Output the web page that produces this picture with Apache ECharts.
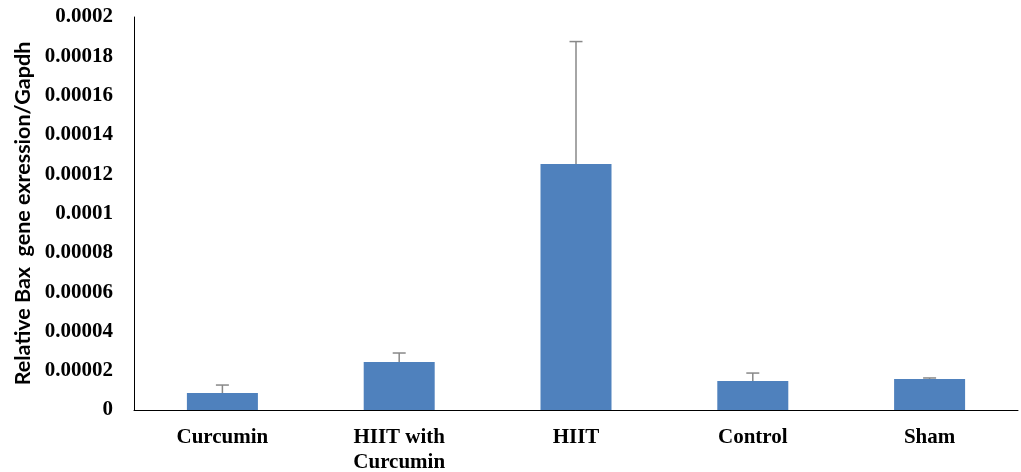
<!DOCTYPE html>
<html><head><meta charset="utf-8">
<script src="https://cdn.jsdelivr.net/npm/echarts@6/dist/echarts.min.js"></script>
<style>html,body{margin:0;padding:0;background:#fff}#c{width:1021px;height:472px}</style>
</head><body><div id="c"></div>
<script>
const categories = ['Curcumin', 'HIIT with\nCurcumin', 'HIIT', 'Control', 'Sham'];
const means = [0.0000086, 0.0000244, 0.0001252, 0.0000148, 0.0000158];
const errTops = [0.0000127, 0.000029, 0.0001875, 0.0000188, 0.0000163];
const yTickLabels = ['0', '0.00002', '0.00004', '0.00006', '0.00008', '0.0001', '0.00012', '0.00014', '0.00016', '0.00018', '0.0002'];
const yTitle = 'Relative Bax  gene exression/Gapdh';

const chart = echarts.init(document.getElementById('c'));
chart.setOption({
  animation: false,
  grid: {left: 134, right: 3, top: 17, bottom: 62, outerBoundsMode: 'none', containLabel: false},
  xAxis: {
    type: 'category', data: categories,
    axisLine: {lineStyle: {color: '#000', width: 1}},
    axisTick: {show: false},
    axisLabel: {fontFamily: 'Liberation Serif', fontWeight: 'bold', fontSize: 21, color: '#000', margin: 15, lineHeight: 25, verticalAlign: 'top'}
  },
  yAxis: {
    type: 'value', min: 0, max: 0.0002, interval: 0.00002,
    name: yTitle, nameLocation: 'middle', nameGap: 97,
    nameTextStyle: {fontFamily: 'Lato', fontWeight: 'bold', fontSize: 21.5, color: '#000'},
    axisLine: {show: true, lineStyle: {color: '#000', width: 1}},
    axisTick: {show: false},
    splitLine: {show: false},
    axisLabel: {
      fontFamily: 'Liberation Serif', fontWeight: 'bold', fontSize: 21, color: '#000', margin: 21,
      formatter: (v, i) => yTickLabels[Math.round(v / 0.00002)]
    }
  },
  series: [
    {type: 'bar', data: means, barWidth: 71, itemStyle: {color: '#4F81BD'}, z: 2},
    {
      type: 'custom', z: 1,
      data: categories.map((c, i) => [i, means[i], errTops[i]]),
      renderItem: (params, api) => {
        const b = api.coord([api.value(0), api.value(1)]);
        const t = api.coord([api.value(0), api.value(2)]);
        const w = 6.5;
        const st = {stroke: '#888', lineWidth: 1.5};
        return {type: 'group', children: [
          {type: 'line', shape: {x1: b[0], y1: b[1], x2: t[0], y2: t[1]}, style: st},
          {type: 'line', shape: {x1: t[0] - w, y1: t[1], x2: t[0] + w, y2: t[1]}, style: st}
        ]};
      }
    }
  ]
});
</script></body></html>
